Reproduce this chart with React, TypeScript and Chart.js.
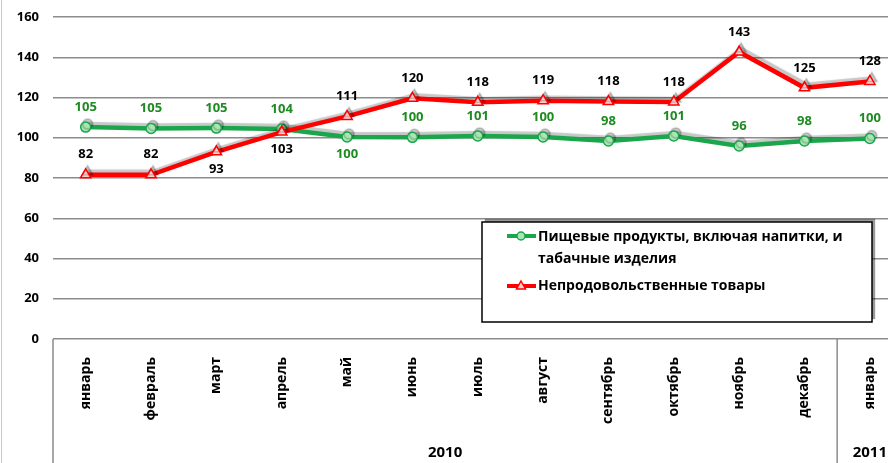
import React, { useEffect, useRef } from "react";
import { Chart, registerables } from "chart.js";

Chart.register(...registerables);

const months = [
  "январь", "февраль", "март", "апрель", "май", "июнь", "июль",
  "август", "сентябрь", "октябрь", "ноябрь", "декабрь", "январь",
];
const yearLabels = ["2010", "2011"];
const yearStart = [0, 12];
const yearEnd = [11, 12];
const foodValues = [105.3, 104.6, 104.8, 104.3, 100.4, 100.2, 100.9, 100.4, 98.4, 100.9, 95.9, 98.4, 99.6];
const foodLabels = ["105", "105", "105", "104", "100", "100", "101", "100", "98", "101", "96", "98", "100"];
const foodLabelBelow = [false, false, false, false, true, false, false, false, false, false, false, false, false];
const nonFoodValues = [81.6, 81.6, 93, 102.8, 110.6, 119.6, 117.6, 118.4, 118, 117.8, 142.6, 124.8, 128];
const nonFoodLabels = ["82", "82", "93", "103", "111", "120", "118", "119", "118", "118", "143", "125", "128"];
const nonFoodLabelBelow = [false, false, true, true, false, false, false, false, false, false, false, false, false];
const legendFood = ["Пищевые продукты, включая напитки, и", "табачные изделия"];
const legendNonFood = "Непродовольственные товары";

const FONT = "'Open Sans', Lato, sans-serif";
const GREEN = "#1aa64a";
const GREEN_FILL = "#a8e6b4";
const GREEN_TEXT = "#1e8a22";
const RED = "#ff0000";
const RED_FILL = "#ffd0d0";

export default function App() {
  const ref = useRef<HTMLCanvasElement | null>(null);

  useEffect(() => {
    if (!ref.current) return;

    const shadowPlugin = {
      id: "shadow",
      beforeDatasetDraw(chart: any) {
        const ctx = chart.ctx;
        ctx.save();
        ctx.shadowColor = "rgba(0,0,0,0.22)";
        ctx.shadowOffsetX = 2;
        ctx.shadowOffsetY = -3;
        ctx.shadowBlur = 1;
      },
      afterDatasetDraw(chart: any) {
        chart.ctx.restore();
      },
    };

    const decorPlugin = {
      id: "decor",
      afterDraw(chart: any) {
        const ctx = chart.ctx;
        const { left, bottom } = chart.chartArea;
        const xs = chart.scales.x;
        const H = chart.height;
        ctx.save();
        ctx.strokeStyle = "#c8c8c8";
        ctx.lineWidth = 1;
        ctx.beginPath();
        ctx.moveTo(1.5, 0);
        ctx.lineTo(1.5, H);
        ctx.stroke();
        ctx.strokeStyle = "#8c8c8c";
        ctx.lineWidth = 1.5;
        ctx.beginPath();
        ctx.moveTo(left, bottom);
        ctx.lineTo(left, H);
        const step = xs.getPixelForValue(1) - xs.getPixelForValue(0);
        for (let g = 0; g < yearLabels.length - 1; g++) {
          const x = xs.getPixelForValue(yearEnd[g]) + step / 2;
          ctx.moveTo(x, bottom);
          ctx.lineTo(x, H);
        }
        ctx.stroke();
        ctx.fillStyle = "#000";
        ctx.font = `bold 15px ${FONT}`;
        ctx.textAlign = "center";
        ctx.textBaseline = "middle";
        for (let g = 0; g < yearLabels.length; g++) {
          const x = (xs.getPixelForValue(yearStart[g]) + xs.getPixelForValue(yearEnd[g])) / 2;
          ctx.fillText(yearLabels[g], x, 453);
        }
        ctx.restore();
      },
    };

    const labelPlugin = {
      id: "pointLabels",
      afterDatasetsDraw(chart: any) {
        const ctx = chart.ctx;
        ctx.save();
        ctx.font = `bold 13px ${FONT}`;
        ctx.textAlign = "center";
        ctx.textBaseline = "middle";
        const sets = [
          { i: 0, labels: foodLabels, below: foodLabelBelow, color: GREEN_TEXT },
          { i: 1, labels: nonFoodLabels, below: nonFoodLabelBelow, color: "#000" },
        ];
        sets.forEach((s) => {
          const meta = chart.getDatasetMeta(s.i);
          ctx.fillStyle = s.color;
          meta.data.forEach((pt: any, k: number) => {
            const dy = s.below[k] ? 17 : -20;
            ctx.fillText(s.labels[k], pt.x, pt.y + dy);
          });
        });
        ctx.restore();
      },
    };

    const legendPlugin = {
      id: "customLegend",
      afterDraw(chart: any) {
        const ctx = chart.ctx;
        ctx.save();
        const x0 = 482, y0 = 222, w = 390, h = 100;
        ctx.shadowColor = "rgba(0,0,0,0.4)";
        ctx.shadowOffsetX = 3;
        ctx.shadowOffsetY = -3;
        ctx.shadowBlur = 1;
        ctx.fillStyle = "#fff";
        ctx.fillRect(x0, y0, w, h);
        ctx.shadowColor = "transparent";
        ctx.strokeStyle = "#000";
        ctx.lineWidth = 1.5;
        ctx.strokeRect(x0, y0, w, h);

        const drawLine = (y: number, color: string) => {
          ctx.strokeStyle = color;
          ctx.lineWidth = 4;
          ctx.beginPath();
          ctx.moveTo(507, y);
          ctx.lineTo(536, y);
          ctx.stroke();
        };
        drawLine(236, GREEN);
        ctx.fillStyle = GREEN_FILL;
        ctx.strokeStyle = GREEN;
        ctx.lineWidth = 1.5;
        ctx.beginPath();
        ctx.arc(521, 236, 4, 0, Math.PI * 2);
        ctx.fill();
        ctx.stroke();
        drawLine(286, RED);
        ctx.fillStyle = RED_FILL;
        ctx.strokeStyle = RED;
        ctx.lineWidth = 1.5;
        ctx.beginPath();
        ctx.moveTo(521, 281);
        ctx.lineTo(525.5, 289);
        ctx.lineTo(516.5, 289);
        ctx.closePath();
        ctx.fill();
        ctx.stroke();

        ctx.fillStyle = "#000";
        ctx.font = `bold 14px ${FONT}`;
        ctx.textAlign = "left";
        ctx.textBaseline = "middle";
        ctx.fillText(legendFood[0], 538, 237);
        ctx.fillText(legendFood[1], 538, 259);
        ctx.fillText(legendNonFood, 538, 286);
        ctx.restore();
      },
    };

    const chart = new Chart(ref.current, {
      type: "line",
      data: {
        labels: months,
        datasets: [
          {
            label: legendFood.join(" "),
            data: foodValues,
            borderColor: GREEN,
            borderWidth: 4.5,
            pointStyle: "circle",
            pointRadius: 5,
            pointBackgroundColor: GREEN_FILL,
            pointBorderColor: GREEN,
            pointBorderWidth: 1.5,
            tension: 0,
            order: 1,
          },
          {
            label: legendNonFood,
            data: nonFoodValues,
            borderColor: RED,
            borderWidth: 4.5,
            pointStyle: "triangle",
            pointRadius: 6,
            pointBackgroundColor: RED_FILL,
            pointBorderColor: RED,
            pointBorderWidth: 1.5,
            tension: 0,
            order: 0,
          },
        ],
      },
      options: {
        animation: false,
        responsive: false,
        maintainAspectRatio: false,
        layout: { padding: { top: 17, left: 0, right: 7, bottom: 0 } },
        plugins: { legend: { display: false }, tooltip: { enabled: false } },
        scales: {
          x: {
            type: "category",
            offset: true,
            grid: { display: false },
            border: { display: false },
            ticks: {
              minRotation: 90,
              maxRotation: 90,
              autoSkip: false,
              padding: 10,
              color: "#000",
              font: { family: FONT, size: 14, weight: "bold" },
            },
            afterFit(axis: any) {
              axis.height = 124;
            },
          },
          y: {
            min: 0,
            max: 160,
            ticks: {
              stepSize: 20,
              padding: 4,
              color: "#000",
              font: { family: FONT, size: 13, weight: "bold" },
            },
            grid: {
              color: "#8c8c8c",
              lineWidth: 1.5,
              drawTicks: true,
              tickLength: 10,
              tickColor: "rgba(0,0,0,0)",
            },
            border: { display: false },
            afterFit(axis: any) {
              axis.width = 53;
            },
          },
        },
      },
      plugins: [shadowPlugin, labelPlugin, decorPlugin, legendPlugin],
    } as any);

    return () => chart.destroy();
  }, []);

  return (
    <div style={{ position: "fixed", left: 0, top: 0, width: 888, height: 463, overflow: "hidden", background: "#fff" }}>
      <canvas ref={ref} width={910} height={463} style={{ width: 910, height: 463, display: "block" }} />
    </div>
  );
}
